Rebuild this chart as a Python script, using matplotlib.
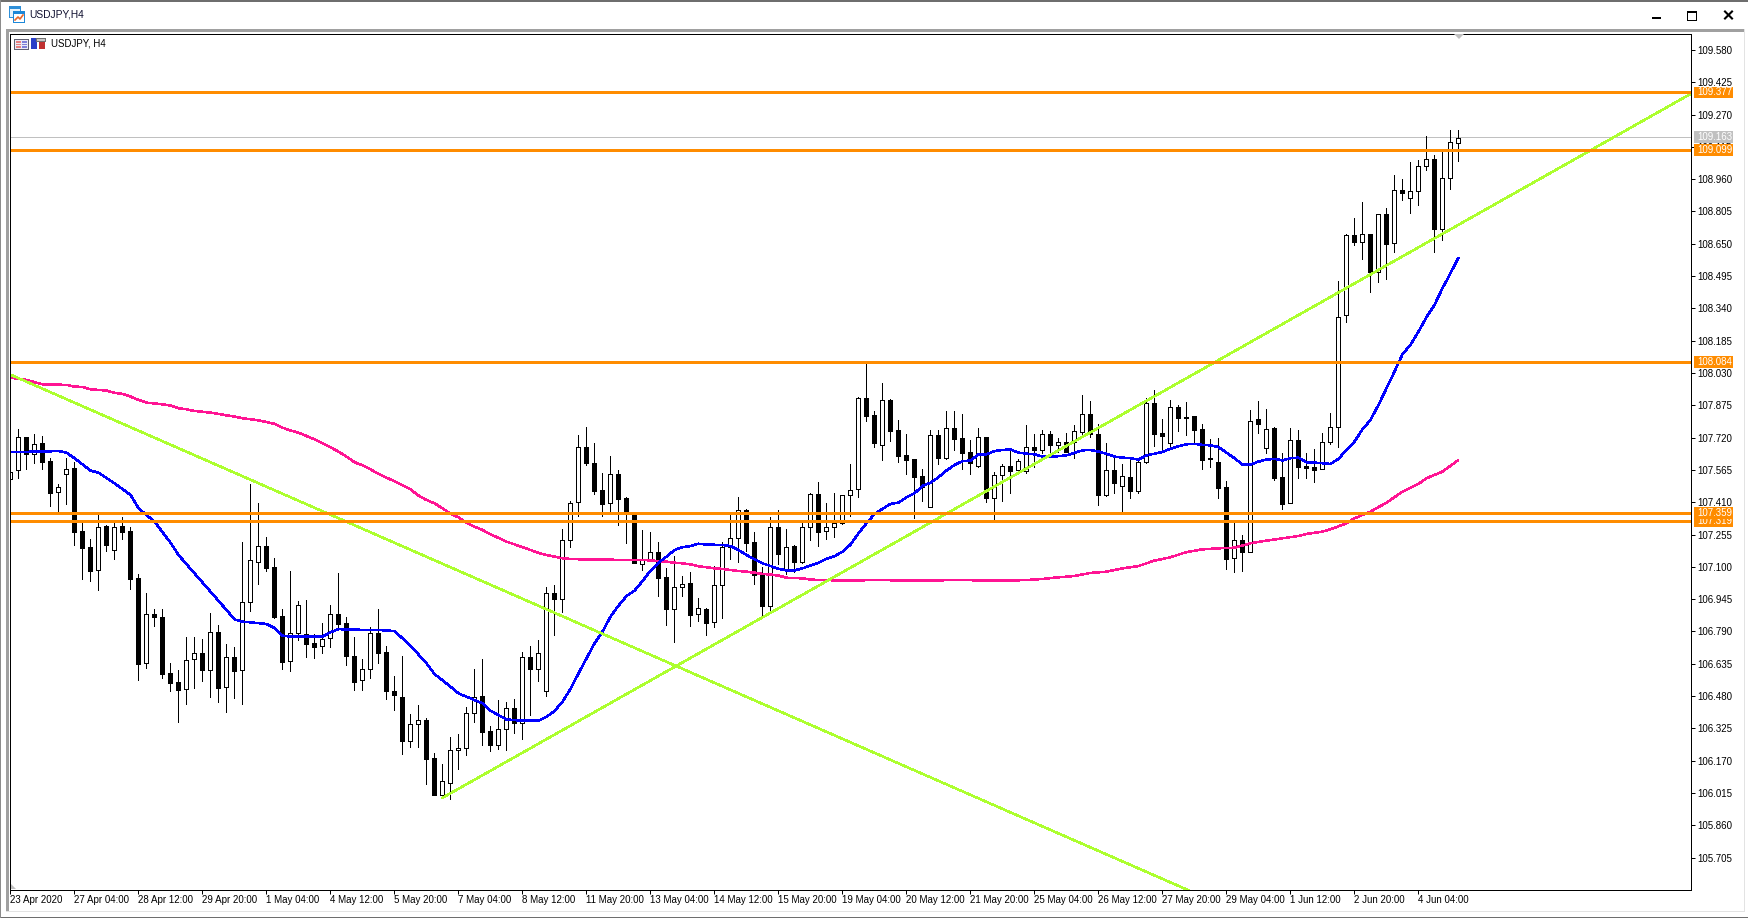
#!/usr/bin/env python3
# -*- coding: utf-8 -*-

import matplotlib
matplotlib.use('Agg')
import matplotlib.pyplot as plt
from matplotlib.patches import Rectangle, Polygon
import numpy as np

plt.rcParams['font.family'] = ['Liberation Sans', 'DejaVu Sans']

# USDJPY H4 bars, oldest first
opens = [
    107.520, 107.563, 107.722, 107.640, 107.693, 107.607, 107.458, 107.544, 107.573, 107.271,
    107.194, 107.083, 107.295, 107.179, 107.295, 107.271, 107.045, 106.637, 106.872, 106.858,
    106.589, 106.546, 106.512, 106.656, 106.685, 106.603, 106.786, 106.522, 106.666, 106.603,
    106.930, 107.122, 107.199, 107.098, 106.863, 106.647, 106.781, 106.776, 106.733, 106.719,
    106.757, 106.872, 106.829, 106.671, 106.555, 106.608, 106.781, 106.690, 106.503, 106.474,
    106.266, 106.344, 106.363, 106.181, 106.007, 106.061, 106.219, 106.229, 106.397, 106.480,
    106.311, 106.243, 106.320, 106.421, 106.352, 106.666, 106.611, 106.503, 106.973, 106.947,
    107.227, 107.410, 107.674, 107.599, 107.469, 107.405, 107.544, 107.429, 107.354, 107.112,
    107.139, 107.170, 107.050, 106.896, 107.002, 107.021, 106.872, 106.896, 106.834, 107.011,
    107.194, 107.237, 107.371, 107.218, 107.059, 106.914, 107.290, 107.087, 107.199, 107.125,
    107.290, 107.448, 107.271, 107.290, 107.312, 107.443, 107.472, 107.909, 107.829, 107.687,
    107.899, 107.757, 107.635, 107.616, 107.535, 107.386, 107.731, 107.624, 107.765, 107.717,
    107.650, 107.583, 107.722, 107.432, 107.539, 107.583, 107.565, 107.559, 107.675, 107.663,
    107.738, 107.687, 107.698, 107.698, 107.749, 107.832, 107.738, 107.447, 107.563, 107.487,
    107.531, 107.466, 107.602, 107.885, 107.741, 107.696, 107.866, 107.821, 107.824, 107.760,
    107.621, 107.602, 107.482, 107.141, 107.227, 107.170, 107.808, 107.672, 107.765, 107.530,
    107.405, 107.707, 107.583, 107.578, 107.568, 107.698, 107.770, 108.307, 108.691, 108.658,
    108.696, 108.514, 108.792, 108.653, 108.907, 108.869, 108.903, 109.023, 109.056, 108.720,
    108.965, 109.133,
]
highs = [
    107.565, 107.760, 107.722, 107.736, 107.728, 107.621, 107.496, 107.621, 107.605, 107.309,
    107.232, 107.354, 107.299, 107.317, 107.338, 107.290, 107.064, 106.973, 106.896, 106.896,
    106.637, 106.603, 106.762, 106.762, 106.752, 106.877, 106.819, 106.728, 106.714, 107.218,
    107.496, 107.405, 107.242, 107.141, 106.896, 107.079, 106.935, 106.939, 106.776, 106.829,
    106.915, 107.069, 106.858, 106.762, 106.656, 106.813, 106.896, 106.720, 106.576, 106.672,
    106.394, 106.437, 106.373, 106.205, 106.154, 106.283, 106.298, 106.426, 106.608, 106.656,
    106.336, 106.461, 106.450, 106.464, 106.693, 106.722, 106.749, 107.002, 107.013, 107.280,
    107.415, 107.733, 107.770, 107.693, 107.549, 107.632, 107.565, 107.437, 107.357, 107.277,
    107.267, 107.219, 107.095, 107.152, 107.056, 107.075, 106.951, 106.903, 107.104, 107.219,
    107.357, 107.434, 107.376, 107.267, 107.101, 107.341, 107.373, 107.280, 107.207, 107.317,
    107.453, 107.507, 107.405, 107.453, 107.447, 107.592, 107.914, 108.077, 107.848, 107.983,
    107.904, 107.805, 107.738, 107.619, 107.568, 107.757, 107.757, 107.848, 107.848, 107.832,
    107.709, 107.765, 107.722, 107.557, 107.594, 107.658, 107.616, 107.781, 107.738, 107.757,
    107.752, 107.719, 107.741, 107.781, 107.925, 107.896, 107.784, 107.693, 107.629, 107.592,
    107.613, 107.613, 107.909, 107.949, 107.808, 107.901, 107.875, 107.891, 107.824, 107.784,
    107.714, 107.719, 107.512, 107.315, 107.253, 107.851, 107.896, 107.858, 107.773, 107.645,
    107.765, 107.757, 107.645, 107.664, 107.741, 107.837, 108.471, 108.698, 108.773, 108.851,
    108.698, 108.792, 108.821, 108.979, 108.960, 109.043, 109.051, 109.168, 109.077, 109.093,
    109.197, 109.197,
]
lows = [
    107.512, 107.528, 107.568, 107.597, 107.568, 107.392, 107.368, 107.402, 107.207, 107.043,
    107.034, 106.989, 107.178, 107.139, 107.235, 106.995, 106.559, 106.616, 106.818, 106.568,
    106.506, 106.357, 106.443, 106.520, 106.554, 106.477, 106.453, 106.405, 106.472, 106.443,
    106.890, 107.018, 107.082, 106.853, 106.611, 106.602, 106.749, 106.669, 106.661, 106.688,
    106.715, 106.797, 106.629, 106.509, 106.511, 106.567, 106.637, 106.467, 106.413, 106.202,
    106.237, 106.237, 106.058, 106.007, 105.994, 105.987, 106.131, 106.197, 106.357, 106.245,
    106.216, 106.226, 106.221, 106.301, 106.275, 106.389, 106.554, 106.482, 106.773, 106.885,
    107.197, 107.344, 107.589, 107.450, 107.344, 107.365, 107.301, 107.216, 107.117, 107.085,
    107.139, 106.962, 106.821, 106.741, 106.962, 106.816, 106.840, 106.773, 106.813, 106.855,
    107.138, 107.123, 107.178, 107.016, 106.861, 106.893, 107.114, 107.066, 107.077, 107.117,
    107.229, 107.200, 107.234, 107.243, 107.306, 107.344, 107.437, 107.802, 107.677, 107.615,
    107.706, 107.605, 107.547, 107.336, 107.418, 107.386, 107.595, 107.619, 107.661, 107.570,
    107.547, 107.581, 107.413, 107.330, 107.418, 107.456, 107.546, 107.549, 107.581, 107.645,
    107.637, 107.653, 107.653, 107.624, 107.738, 107.722, 107.397, 107.442, 107.453, 107.370,
    107.432, 107.456, 107.600, 107.680, 107.656, 107.680, 107.754, 107.733, 107.693, 107.571,
    107.581, 107.432, 107.090, 107.077, 107.082, 107.170, 107.741, 107.645, 107.517, 107.378,
    107.405, 107.527, 107.528, 107.509, 107.568, 107.688, 107.677, 108.277, 108.642, 108.575,
    108.421, 108.469, 108.479, 108.613, 108.858, 108.800, 108.834, 109.002, 108.613, 108.666,
    108.911, 109.045,
]
closes = [
    107.557, 107.722, 107.640, 107.691, 107.605, 107.456, 107.485, 107.571, 107.269, 107.192,
    107.080, 107.293, 107.207, 107.293, 107.269, 107.043, 106.635, 106.872, 106.859, 106.587,
    106.544, 106.511, 106.655, 106.685, 106.607, 106.786, 106.520, 106.666, 106.602, 106.930,
    107.131, 107.199, 107.096, 106.859, 106.645, 106.781, 106.915, 106.731, 106.717, 106.752,
    106.872, 106.827, 106.674, 106.549, 106.608, 106.781, 106.688, 106.506, 106.487, 106.266,
    106.344, 106.363, 106.179, 106.007, 106.071, 106.219, 106.229, 106.397, 106.477, 106.309,
    106.245, 106.320, 106.421, 106.352, 106.666, 106.611, 106.685, 106.973, 106.947, 107.227,
    107.405, 107.674, 107.600, 107.464, 107.403, 107.544, 107.427, 107.357, 107.117, 107.139,
    107.170, 107.048, 106.898, 107.002, 107.016, 106.871, 106.901, 106.832, 107.011, 107.194,
    107.237, 107.371, 107.216, 107.059, 106.914, 107.290, 107.163, 107.194, 107.125, 107.290,
    107.450, 107.269, 107.293, 107.312, 107.443, 107.467, 107.909, 107.826, 107.696, 107.899,
    107.754, 107.634, 107.615, 107.533, 107.485, 107.731, 107.624, 107.765, 107.715, 107.648,
    107.600, 107.722, 107.432, 107.539, 107.583, 107.562, 107.608, 107.674, 107.661, 107.738,
    107.685, 107.698, 107.653, 107.751, 107.832, 107.738, 107.447, 107.563, 107.504, 107.535,
    107.466, 107.602, 107.885, 107.739, 107.730, 107.866, 107.816, 107.816, 107.759, 107.615,
    107.616, 107.480, 107.136, 107.227, 107.170, 107.802, 107.784, 107.763, 107.528, 107.403,
    107.707, 107.578, 107.576, 107.563, 107.698, 107.770, 108.298, 108.691, 108.661, 108.696,
    108.514, 108.792, 108.651, 108.907, 108.893, 108.903, 109.023, 109.055, 108.720, 108.965,
    109.138, 109.160,
]

ma_fast_idx = [
    0, 4, 6, 7, 8, 10, 11, 13, 15, 16, 17, 18, 20, 21, 23, 25, 27, 28, 29, 30, 32, 33, 34, 35, 39,
    40, 41, 42, 46, 47, 48, 50, 52, 53, 55, 56, 58, 59, 60, 61, 62, 64, 66, 67, 68, 69, 70, 71, 72,
    73, 74, 75, 76, 77, 78, 79, 80, 81, 82, 83, 84, 85, 86, 87, 89, 90, 91, 92, 93, 94, 95, 96, 97,
    98, 99, 100, 101, 102, 103, 104, 105, 106, 107, 108, 109, 110, 111, 112, 113, 114, 115, 116,
    117, 118, 119, 120, 121, 122, 123, 124, 125, 126, 127, 128, 129, 130, 131, 132, 133, 134, 135,
    136, 137, 138, 139, 140, 141, 142, 143, 144, 145, 146, 147, 148, 149, 150, 151, 152, 153, 154,
    155, 156, 157, 158, 159, 160, 161, 162, 163, 164, 165, 166, 167, 168, 169, 170, 171, 172, 173,
    174, 175, 176, 177, 178, 179, 180, 181,
]
ma_fast = [
    107.651, 107.653, 107.656, 107.648, 107.621, 107.562, 107.552, 107.501, 107.445, 107.381,
    107.349, 107.317, 107.216, 107.157, 107.069, 106.981, 106.893, 106.848, 106.837, 106.834,
    106.826, 106.807, 106.770, 106.765, 106.765, 106.786, 106.802, 106.799, 106.797, 106.795,
    106.792, 106.722, 106.637, 106.586, 106.525, 106.493, 106.461, 106.445, 106.410, 106.389,
    106.368, 106.362, 106.362, 106.381, 106.408, 106.453, 106.514, 106.589, 106.661, 106.733,
    106.789, 106.861, 106.914, 106.960, 106.986, 107.032, 107.082, 107.120, 107.149, 107.181,
    107.194, 107.200, 107.211, 107.207, 107.205, 107.200, 107.181, 107.157, 107.136, 107.117,
    107.104, 107.091, 107.083, 107.083, 107.093, 107.106, 107.120, 107.139, 107.151, 107.173,
    107.207, 107.261, 107.309, 107.354, 107.378, 107.402, 107.408, 107.434, 107.453, 107.488,
    107.504, 107.530, 107.562, 107.589, 107.607, 107.610, 107.639, 107.640, 107.656, 107.661,
    107.663, 107.648, 107.643, 107.640, 107.629, 107.629, 107.631, 107.635, 107.647, 107.659,
    107.661, 107.653, 107.642, 107.629, 107.624, 107.621, 107.615, 107.635, 107.643, 107.651,
    107.667, 107.679, 107.688, 107.690, 107.685, 107.683, 107.675, 107.648, 107.621, 107.591,
    107.591, 107.605, 107.615, 107.618, 107.611, 107.621, 107.624, 107.602, 107.600, 107.597,
    107.594, 107.618, 107.661, 107.701, 107.760, 107.805, 107.877, 107.957, 108.037, 108.120,
    108.165, 108.229, 108.298, 108.357, 108.437, 108.509, 108.584,
]

ma_slow_idx = [
    0, 1, 2, 3, 4, 7, 8, 9, 10, 12, 13, 14, 15, 16, 17, 19, 20, 21, 22, 23, 25, 26, 27, 28, 29, 30,
    31, 32, 33, 34, 35, 36, 37, 38, 39, 40, 41, 42, 43, 44, 45, 46, 47, 48, 49, 50, 51, 52, 53, 54,
    55, 56, 57, 58, 59, 60, 61, 62, 63, 64, 65, 66, 67, 68, 69, 70, 72, 79, 80, 81, 82, 83, 84, 85,
    86, 87, 88, 89, 90, 91, 92, 93, 94, 95, 96, 97, 98, 99, 100, 101, 105, 108, 113, 119, 122, 125,
    128, 129, 131, 133, 135, 137, 139, 141, 143, 145, 147, 149, 151, 153, 155, 157, 159, 161, 162,
    164, 165, 167, 168, 170, 172, 174, 176, 177, 179, 181,
]
ma_slow = [
    108.008, 108.002, 107.997, 107.986, 107.976, 107.973, 107.965, 107.963, 107.952, 107.946,
    107.935, 107.930, 107.917, 107.901, 107.888, 107.880, 107.874, 107.861, 107.856, 107.848,
    107.840, 107.834, 107.827, 107.821, 107.813, 107.808, 107.803, 107.795, 107.786, 107.768,
    107.754, 107.744, 107.728, 107.712, 107.693, 107.674, 107.653, 107.629, 107.602, 107.587,
    107.568, 107.546, 107.528, 107.511, 107.491, 107.472, 107.442, 107.421, 107.405, 107.381,
    107.354, 107.338, 107.312, 107.293, 107.277, 107.256, 107.239, 107.221, 107.208, 107.194,
    107.181, 107.167, 107.157, 107.149, 107.141, 107.138, 107.135, 107.133, 107.131, 107.127,
    107.125, 107.120, 107.117, 107.112, 107.103, 107.098, 107.093, 107.090, 107.085, 107.080,
    107.077, 107.072, 107.066, 107.063, 107.058, 107.048, 107.046, 107.045, 107.039, 107.037,
    107.034, 107.037, 107.034, 107.037, 107.034, 107.034, 107.039, 107.042, 107.050, 107.056,
    107.071, 107.077, 107.093, 107.104, 107.130, 107.146, 107.171, 107.184, 107.189, 107.192,
    107.213, 107.226, 107.237, 107.248, 107.258, 107.269, 107.280, 107.309, 107.333, 107.365,
    107.408, 107.461, 107.498, 107.525, 107.557, 107.613,
]

# levels drawn on the chart
levels = [109.377, 109.099, 108.084, 107.319, 107.359]
last_price = 109.163

# two trend lines, (bar index, price)
trend_down_x = [0, 147.2]
trend_down_y = [108.022, 105.549]
trend_up_x = [54, 210]
trend_up_y = [105.992, 109.369]

y_ticks = [109.580, 109.425, 109.270, 109.115, 108.960, 108.805, 108.650, 108.495, 108.340,
           108.185, 108.030, 107.875, 107.720, 107.565, 107.410, 107.255, 107.100, 106.945,
           106.790, 106.635, 106.480, 106.325, 106.170, 106.015, 105.860, 105.705]
x_tick_labels = ['23 Apr 2020', '27 Apr 04:00', '28 Apr 12:00', '29 Apr 20:00', '1 May 04:00',
                 '4 May 12:00', '5 May 20:00', '7 May 04:00', '8 May 12:00', '11 May 20:00',
                 '13 May 04:00', '14 May 12:00', '15 May 20:00', '19 May 04:00', '20 May 12:00',
                 '21 May 20:00', '25 May 04:00', '26 May 12:00', '27 May 20:00', '29 May 04:00',
                 '1 Jun 12:00', '2 Jun 20:00', '4 Jun 04:00']

W, H = 1749, 918
PX = 0.72  # one pixel in points at dpi 100
ORANGE = '#FF8C00'
LINE_W = 1.1

fig = plt.figure(figsize=(W / 100, H / 100), dpi=100, facecolor='white')

# window frame in pixel coordinates
ov = fig.add_axes([0, 0, 1, 1], zorder=0)
ov.set_xlim(0, W)
ov.set_ylim(H, 0)
ov.axis('off')


def box(x0, y0, x1, y1, color, **kw):
    ov.add_patch(Rectangle((x0, y0), x1 - x0, y1 - y0, fc=color, ec='none', antialiased=False, **kw))


box(0, 0, W, 1.5, '#6E6E6E')
box(0, 917, W, H, '#6E6E6E')
box(0, 0, 1, H, '#8C8C8C')
box(W - 1, 0, W, H, '#8C8C8C')
box(6.5, 29, 9, 912, '#A0A0A0')
box(6.5, 29, 1745, 31.5, '#A0A0A0')
box(6.5, 911, 1745, 912, '#E3E3E3')
box(1744, 29, 1745, 912, '#E3E3E3')

# title bar icon
box(9, 6, 21, 18, '#2F8FD8')
box(10, 9, 20, 17, '#E8F3FB')
box(13, 11, 25, 23, '#1E88D8')
box(14, 14, 24, 22, '#FFFFFF')
ov.plot([15, 18, 20, 23], [20, 17, 19, 15], color='#E8662A', lw=1.2)
ov.text(29.5, 14.5, 'USDJPY,H4', fontsize=7.4, color='#101030', va='center', ha='left')

# window buttons
box(1652, 17, 1661, 19, 'black')
ov.add_patch(Rectangle((1687.5, 11.5), 9, 8, fc='none', ec='black', lw=PX, antialiased=False))
box(1687, 11, 1697, 13, 'black')
ov.plot([1725, 1732], [11.5, 18.5], color='black', lw=1.5)
ov.plot([1725, 1732], [18.5, 11.5], color='black', lw=1.5)

# chart area
left, right, top, bottom = 10.5, 1691.5, 33.5, 889.5
ax = fig.add_axes([left / W, 1 - bottom / H, (right - left) / W, (bottom - top) / H], zorder=1)
ax.set_facecolor('white')
ax.set_xlim(0, (right - left) / 8)
ax.set_ylim(105.552, 109.659)

opens = np.array(opens)
closes = np.array(closes)
idx = np.arange(len(opens))
bull = closes >= opens
body_low = np.minimum(opens, closes)
body_h = np.abs(closes - opens)

ax.vlines(idx, lows, highs, colors='black', lw=PX, antialiased=False, zorder=2)
ax.bar(idx[bull], body_h[bull], bottom=body_low[bull], width=0.5, color='white', edgecolor='black',
       linewidth=PX, antialiased=False, zorder=3)
ax.bar(idx[~bull], body_h[~bull], bottom=body_low[~bull], width=0.5, color='black', edgecolor='black',
       linewidth=PX, antialiased=False, zorder=3)

ax.axhline(last_price, color='#C0C0C0', lw=PX, antialiased=False, zorder=1)
ax.plot(ma_slow_idx, ma_slow, color='#FF1493', lw=LINE_W, antialiased=False, solid_capstyle='butt', zorder=4)
ax.plot(ma_fast_idx, ma_fast, color='#0000FF', lw=LINE_W, antialiased=False, solid_capstyle='butt', zorder=5)
ax.plot(trend_down_x, trend_down_y, color='#ADFF2F', lw=LINE_W, antialiased=False, zorder=6)
ax.plot(trend_up_x, trend_up_y, color='#ADFF2F', lw=LINE_W, antialiased=False, zorder=6)
for lv in levels:
    ax.axhline(lv, color=ORANGE, lw=3 * PX, antialiased=False, zorder=7)

for s in ax.spines.values():
    s.set_linewidth(PX)
    s.set_color('black')
    s.set_zorder(10)

ax.yaxis.tick_right()
ax.set_yticks(y_ticks)
ax.set_yticklabels(['%.3f' % v for v in y_ticks])
ax.set_xticks(np.arange(len(x_tick_labels)) * 8)
ax.set_xticklabels(x_tick_labels, ha='left')
ax.tick_params(axis='both', length=4 * PX, width=PX, labelsize=7, colors='black')
ax.tick_params(axis='y', pad=1.6)
ax.tick_params(axis='x', pad=1)

# price tags on the scale, later tags cover earlier ones
ytrans = ax.get_yaxis_transform()
axw = right - left
tag_h = 11.5 / 208.4


def price_tag(price, color, z):
    ax.add_patch(Rectangle((1 + 2.5 / axw, price - tag_h / 2), 39 / axw, tag_h, transform=ytrans, fc=color,
                           ec='none', clip_on=False, antialiased=False, zorder=z))
    ax.text(1 + 5.5 / axw, price, '%.3f' % price, transform=ytrans, color='white', fontsize=7,
            va='center', ha='left', clip_on=False, zorder=z + 1)


price_tag(last_price, '#C0C0C0', 20)
for n, lv in enumerate(levels):
    price_tag(lv, ORANGE, 22 + 2 * n)

# legend icons, name and the small scale markers
ov2 = fig.add_axes([0, 0, 1, 1], zorder=2)
ov2.set_xlim(0, W)
ov2.set_ylim(H, 0)
ov2.axis('off')
ov2.patch.set_alpha(0)
ov2.add_patch(Rectangle((14.5, 38.5), 14, 10, fc='#EAEAF4', ec='#606070', lw=PX, antialiased=False))
for yy in (41, 43.5, 46):
    ov2.add_patch(Rectangle((16, yy), 5, 1.5, fc='#E88080', ec='none', antialiased=False))
    ov2.add_patch(Rectangle((22, yy), 5, 1.5, fc='#8080D8', ec='none', antialiased=False))
ov2.add_patch(Rectangle((31, 38), 6, 11, fc='#2A3FC8', ec='none', antialiased=False))
ov2.add_patch(Rectangle((39, 40), 6, 9, fc='#C03030', ec='none', antialiased=False))
ov2.add_patch(Rectangle((36, 38), 9, 3, fc='#C8C8C8', ec='#707070', lw=0.4, antialiased=False))
ov2.text(51.5, 43.5, 'USDJPY, H4', fontsize=7, color='black', va='center', ha='left')
ov2.add_patch(Polygon([(1454, 34), (1464, 34), (1459, 39)], fc='#C0C0C0', ec='none'))
ov2.add_patch(Polygon([(11, 884), (11, 889), (16, 889)], fc='#C0C0C0', ec='none'))

plt.savefig('out.png', dpi=100)
